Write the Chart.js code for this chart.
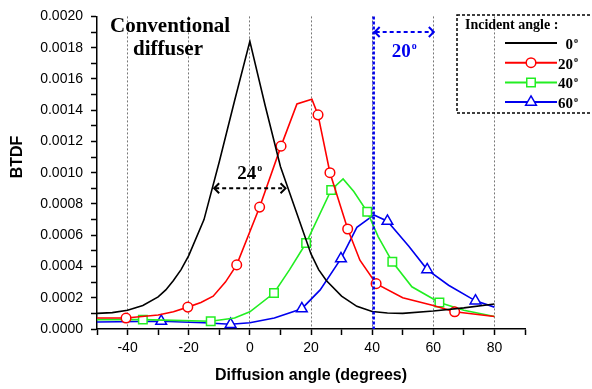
<!DOCTYPE html>
<html>
<head>
<meta charset="utf-8">
<script src="https://cdn.jsdelivr.net/npm/chart.js@4.4.0/dist/chart.umd.min.js"></script>
<style>
  html, body { margin: 0; padding: 0; background: #fff; }
</style>
</head>
<body>
<canvas id="btdf" width="592" height="389"></canvas>
<script>
// BTDF vs diffusion angle, one curve per incident angle
var incidentLabels = ["0", "20", "40", "60"];

var x0 = [-50, -45, -40, -35, -30, -27.5, -25, -22.5, -20, -15, -10, -5, 0, 5, 10, 15, 20, 22.5, 25, 30, 35, 40, 45, 50, 60, 70, 80];
var y0 = [0.000100, 0.000105, 0.000120, 0.000150, 0.000205, 0.000250, 0.000310, 0.000380, 0.000470, 0.000700, 0.001070,
          0.001460, 0.001840, 0.001430, 0.001040, 0.000760, 0.000480, 0.000380, 0.000310, 0.000210, 0.000145, 0.000112,
          0.000102, 0.000100, 0.000115, 0.000135, 0.000160];

var x20 = [-50, -40.5, -30, -25, -20.3, -16, -12, -8, -4.3, 3.2, 10.2, 15.4, 20.3, 22.3, 26.2, 32, 36, 41.3, 50, 60, 67, 80];
var y20 = [0.00007, 0.00007, 0.00009, 0.00011, 0.00014, 0.00017, 0.00021, 0.00030, 0.00041, 0.00078, 0.00117, 0.00144,
           0.00147, 0.00137, 0.00100, 0.00064, 0.00044, 0.00029, 0.00020, 0.00015, 0.00011, 0.00008];
var marks20 = [-40.5, -20.3, -4.3, 3.2, 10.2, 22.3, 26.2, 32, 41.3, 67];

var x40 = [-50, -35, -25, -12.8, -5, 0, 7.9, 13, 18.4, 26.6, 30.5, 34, 38.4, 42, 46.6, 53, 62, 70, 80];
var y40 = [0.00006, 0.00006, 0.000055, 0.00005, 0.00007, 0.00011, 0.00023, 0.00038, 0.00055, 0.00089, 0.00096, 0.00088,
           0.00075, 0.00059, 0.00043, 0.00027, 0.00017, 0.00012, 0.00008];
var marks40 = [-35, -12.8, 7.9, 18.4, 26.6, 38.4, 46.6, 62];

var x60 = [-50, -29, -15, -6.3, 0, 8, 17, 23, 29.8, 35, 40.6, 45, 52, 58, 65, 73.8, 80];
var y60 = [0.000045, 0.00005, 0.00004, 0.00003, 0.00004, 0.00007, 0.00013, 0.00025, 0.00045, 0.00065, 0.00073, 0.00069,
           0.00053, 0.00038, 0.00028, 0.00018, 0.00014];
var marks60 = [-29, -6.3, 17, 29.8, 45, 58, 73.8];

// angular spreads marked with arrows (degrees)
var spreadConventional = [-12, 12];
var spreadNew = [40.5, 60.5];

var SERIF = '"Liberation Serif", "Times New Roman", serif';
var SANS = '"Liberation Sans", Arial, sans-serif';

function series(label, xs, ys, marks, color, style, r) {
  return {
    label: label,
    data: xs.map(function (x, i) { return { x: x, y: ys[i] }; }),
    borderColor: color,
    backgroundColor: '#fff',
    borderWidth: 1.6,
    tension: 0,
    pointStyle: style || 'circle',
    markRadius: r || 0,
    pointRadius: function (c) { return marks.indexOf(c.raw.x) >= 0 ? r : 0; },
    pointBorderWidth: 1.5,
    pointBorderColor: color,
    pointBackgroundColor: '#fff',
    pointHoverRadius: 0
  };
}

function degText(ctx, num, x, y, size, align) {
  // number with a small raised "o" as the degree sign
  var small = Math.round(size * 0.55);
  ctx.font = 'bold ' + size + 'px ' + SERIF;
  var w = ctx.measureText(num).width;
  ctx.font = 'bold ' + small + 'px ' + SERIF;
  var wo = ctx.measureText('o').width;
  var left = align === 'center' ? x - (w + wo + 1) / 2 : (align === 'right' ? x - w - wo - 1 : x);
  ctx.textAlign = 'left';
  ctx.textBaseline = 'alphabetic';
  ctx.font = 'bold ' + size + 'px ' + SERIF;
  ctx.fillText(num, left, y);
  ctx.font = 'bold ' + small + 'px ' + SERIF;
  ctx.fillText('o', left + w + 1, y - size * 0.42);
}

function spanArrow(ctx, x1, x2, y, color) {
  ctx.save();
  ctx.strokeStyle = color;
  ctx.lineWidth = 2;
  ctx.setLineDash([4, 3]);
  ctx.beginPath();
  ctx.moveTo(x1 + 2, y);
  ctx.lineTo(x2 - 2, y);
  ctx.stroke();
  ctx.setLineDash([]);
  ctx.beginPath();
  ctx.moveTo(x1 + 6, y - 5); ctx.lineTo(x1 + 1, y); ctx.lineTo(x1 + 6, y + 5);
  ctx.moveTo(x2 - 6, y - 5); ctx.lineTo(x2 - 1, y); ctx.lineTo(x2 - 6, y + 5);
  ctx.stroke();
  ctx.restore();
}

function marker(ctx, style, x, y, r) {
  ctx.beginPath();
  if (style === 'circle') {
    ctx.arc(x, y, r, 0, Math.PI * 2);
  } else if (style === 'rect') {
    var s = r * Math.SQRT1_2;
    ctx.rect(x - s, y - s, 2 * s, 2 * s);
  } else if (style === 'triangle') {
    for (var k = 0; k < 3; k++) {
      var a = k * 2 * Math.PI / 3;
      var px = x + Math.sin(a) * r, py = y - Math.cos(a) * r;
      if (k === 0) ctx.moveTo(px, py); else ctx.lineTo(px, py);
    }
    ctx.closePath();
  }
  ctx.fill();
  ctx.stroke();
}

var extras = {
  id: 'extras',
  afterDatasetsDraw: function (chart) {
    var ctx = chart.ctx, xs = chart.scales.x, ys = chart.scales.y, area = chart.chartArea;
    ctx.save();

    // new diffuser: vertical marker at the peak and its 20 degree spread
    var xv = xs.getPixelForValue(spreadNew[0]);
    ctx.strokeStyle = '#0000ee';
    ctx.lineWidth = 2.5;
    ctx.setLineDash([3, 2]);
    ctx.beginPath();
    ctx.moveTo(xv, area.top);
    ctx.lineTo(xv, area.bottom);
    ctx.stroke();
    ctx.setLineDash([]);
    var yb = ys.getPixelForValue(0.0019);
    spanArrow(ctx, xv, xs.getPixelForValue(spreadNew[1]), yb, '#0000ee');
    ctx.fillStyle = '#0000ee';
    degText(ctx, String(spreadNew[1] - spreadNew[0]), (xv + xs.getPixelForValue(spreadNew[1])) / 2, yb + 25, 19, 'center');

    // conventional diffuser spread
    var ya = ys.getPixelForValue(0.0009);
    var xa1 = xs.getPixelForValue(spreadConventional[0]), xa2 = xs.getPixelForValue(spreadConventional[1]);
    spanArrow(ctx, xa1, xa2, ya, '#000');
    ctx.fillStyle = '#000';
    degText(ctx, String(spreadConventional[1] - spreadConventional[0]), (xa1 + xa2) / 2, ya - 9, 19, 'center');

    ctx.font = 'bold 21px ' + SERIF;
    ctx.textAlign = 'left';
    ctx.textBaseline = 'alphabetic';
    ctx.fillText('Conventional', 110, 32);
    ctx.fillText('diffuser', 133, 55);

    // y axis title
    ctx.save();
    ctx.translate(18, 157);
    ctx.rotate(-Math.PI / 2);
    ctx.font = 'bold 16px ' + SANS;
    ctx.textAlign = 'center';
    ctx.textBaseline = 'middle';
    ctx.fillText('BTDF', 0, 0);
    ctx.restore();

    // legend
    ctx.strokeStyle = '#000';
    ctx.lineWidth = 1.5;
    ctx.setLineDash([3, 2]);
    ctx.strokeRect(457, 15, 150, 98);
    ctx.setLineDash([]);
    ctx.font = 'bold 14px ' + SERIF;
    ctx.fillStyle = '#000';
    ctx.fillText('Incident angle :', 465, 29);
    chart.data.datasets.forEach(function (ds, i) {
      var ly = 43 + i * 19.7;
      ctx.strokeStyle = ds.borderColor;
      ctx.lineWidth = 2;
      ctx.beginPath();
      ctx.moveTo(505, ly);
      ctx.lineTo(557, ly);
      ctx.stroke();
      if (ds.markRadius) {
        ctx.fillStyle = '#fff';
        ctx.lineWidth = 1.5;
        marker(ctx, ds.pointStyle, 531, ly, ds.markRadius);
      }
      ctx.fillStyle = '#000';
      degText(ctx, ds.label, 578, ly + 6, 15, 'right');
    });
    ctx.restore();
  }
};

new Chart(document.getElementById('btdf'), {
  type: 'line',
  data: {
    datasets: [
      series(incidentLabels[0], x0, y0, [], '#000000', 'circle', 0),
      series(incidentLabels[1], x20, y20, marks20, '#ff0000', 'circle', 4.8),
      series(incidentLabels[2], x40, y40, marks40, '#22ee22', 'rect', 6),
      series(incidentLabels[3], x60, y60, marks60, '#0000ee', 'triangle', 6.2)
    ]
  },
  options: {
    responsive: false,
    animation: false,
    devicePixelRatio: 1,
    layout: { padding: { top: 14, right: 67, left: 0, bottom: 0 } },
    plugins: { legend: { display: false }, tooltip: { enabled: false } },
    scales: {
      x: {
        type: 'linear',
        min: -50,
        max: 90,
        afterFit: function (s) { s.height = 60; },
        ticks: {
          stepSize: 10,
          autoSkip: false,
          maxRotation: 0,
          padding: 5,
          color: '#000',
          font: { family: SANS, size: 14 },
          callback: function (v) {
            var n = Math.round(v);
            return (n % 20 === 0 && n > -50 && n < 90) ? String(n) : '';
          }
        },
        grid: {
          drawOnChartArea: true,
          tickLength: 6,
          tickWidth: 1.5,
          tickColor: '#000',
          lineWidth: 1,
          color: function (c) {
            var n = c.tick ? Math.round(c.tick.value) : 0;
            return (n % 20 === 0 && n > -50 && n < 90) ? '#777' : 'rgba(0,0,0,0)';
          }
        },
        border: { display: true, color: '#000', width: 1.5, dash: [2, 2] },
        title: {
          display: true,
          text: 'Diffusion angle (degrees)',
          color: '#000',
          font: { family: SANS, size: 16, weight: 'bold' },
          padding: { top: 0, bottom: 4 }
        }
      },
      y: {
        min: 0,
        max: 0.002,
        afterFit: function (s) { s.width = 97; },
        ticks: {
          stepSize: 0.0001,
          autoSkip: false,
          padding: 8,
          color: '#000',
          font: { family: SANS, size: 14 },
          callback: function (v) {
            var n = Math.round(v * 10000);
            return n % 2 === 0 ? (n / 10000).toFixed(4) : '';
          }
        },
        grid: { drawOnChartArea: false, tickLength: 6, tickWidth: 1.5, tickColor: '#000' },
        border: { display: true, color: '#000', width: 1.5 }
      }
    }
  },
  plugins: [extras]
});
</script>
</body>
</html>
